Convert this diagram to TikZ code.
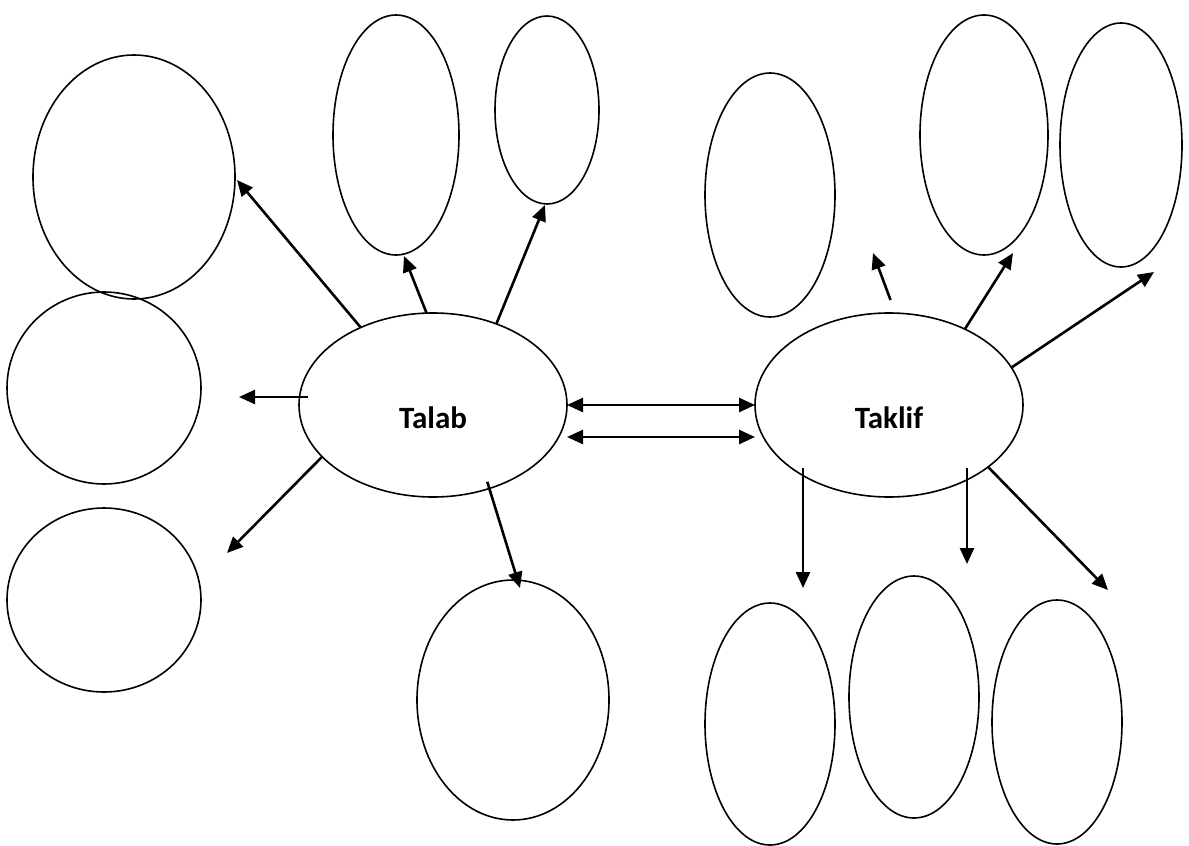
\documentclass[tikz,border=0pt]{standalone}
\usepackage{fontspec}
\setmainfont{Carlito}
\usetikzlibrary{arrows.meta,shapes.geometric}

\begin{document}
\begin{tikzpicture}[x=0.5pt, y=-0.5pt, line width=0.8pt,
      every node/.append style={inner sep=0pt, outer sep=0pt},
      arr/.style={-{Triangle[length=8pt,width=7pt]}, line width=1.3pt},
      dbl/.style={{Triangle[length=8pt,width=7pt]}-{Triangle[length=8pt,width=7pt]}, line width=1.3pt}]
    \tikzstyle{bubble} = [draw, ellipse]
    \tikzstyle{word} = [font=\fontsize{15.5}{18}\selectfont\bfseries]
    \useasboundingbox (0,0) rectangle (1189,846);
    % the two main ellipses
    \node (talab) at (433,405) [bubble, minimum width=134pt, minimum height=92pt,
      label={[word,yshift=-6.5pt]center:Talab}] {};
    \node (taklif) at (889,405) [bubble, minimum width=134pt, minimum height=92pt,
      label={[word,yshift=-6.5pt]center:Taklif}] {};
    % empty ellipses round Talab
    \node (lefttop) at (134,177) [bubble, minimum width=101pt, minimum height=122pt] {};
    \node (leftmid) at (104,388) [bubble, minimum width=97pt, minimum height=96pt] {};
    \node (leftbot) at (104,600) [bubble, minimum width=97pt, minimum height=92pt] {};
    \node (topa) at (396,135) [bubble, minimum width=63pt, minimum height=120pt] {};
    \node (topb) at (547,110) [bubble, minimum width=52pt, minimum height=94pt] {};
    \node (botm) at (513,700) [bubble, minimum width=96pt, minimum height=120pt] {};
    % empty ellipses round Taklif
    \node (rta) at (770,195) [bubble, minimum width=65pt, minimum height=122pt] {};
    \node (rtb) at (984,135) [bubble, minimum width=64pt, minimum height=120pt] {};
    \node (rtc) at (1121,145) [bubble, minimum width=61pt, minimum height=122pt] {};
    \node (rba) at (770,724) [bubble, minimum width=65pt, minimum height=121pt] {};
    \node (rbb) at (914,697) [bubble, minimum width=65pt, minimum height=121pt] {};
    \node (rbc) at (1057,722) [bubble, minimum width=65pt, minimum height=122pt] {};
    % arrow tips
    \coordinate (ta) at (237,180);
    \coordinate (tb) at (404,256);
    \coordinate (tc) at (545,205);
    \coordinate (td) at (239,397);
    \coordinate (te) at (227,553);
    \coordinate (tf) at (520,588);
    \coordinate (ka) at (873,253);
    \coordinate (kb) at (1013,253);
    \coordinate (kc) at (1154,272);
    \coordinate (kd) at (803,588);
    \coordinate (ke) at (967,564);
    \coordinate (kf) at (1108,590);
    % arrows
    \draw[arr] (talab.133) -- (ta);
    \draw[arr] (talab.94) -- (tb);
    \draw[arr] (talab.52) -- (tc);
    \draw[arr, shorten <=-4.5pt] (td -| talab.west) -- (td);
    \draw[arr] (talab.205) -- (te);
    \draw[arr, shorten <=-3.5pt] (talab.304) -- (tf);
    \draw[arr, shorten <=7pt] (taklif.86) -- (ka);
    \draw[arr] (taklif.45) -- (kb);
    \draw[arr] (taklif.17) -- (kc);
    \draw[arr] (kd |- taklif.213) -- (kd);
    \draw[arr] (ke |- taklif.327) -- (ke);
    \draw[arr] (taklif.328) -- (kf);
    \draw[dbl] (talab.east) -- (taklif.west);
    \draw[dbl] ([yshift=-16pt]talab.east) -- ([yshift=-16pt]taklif.west);
\end{tikzpicture}
\end{document}
